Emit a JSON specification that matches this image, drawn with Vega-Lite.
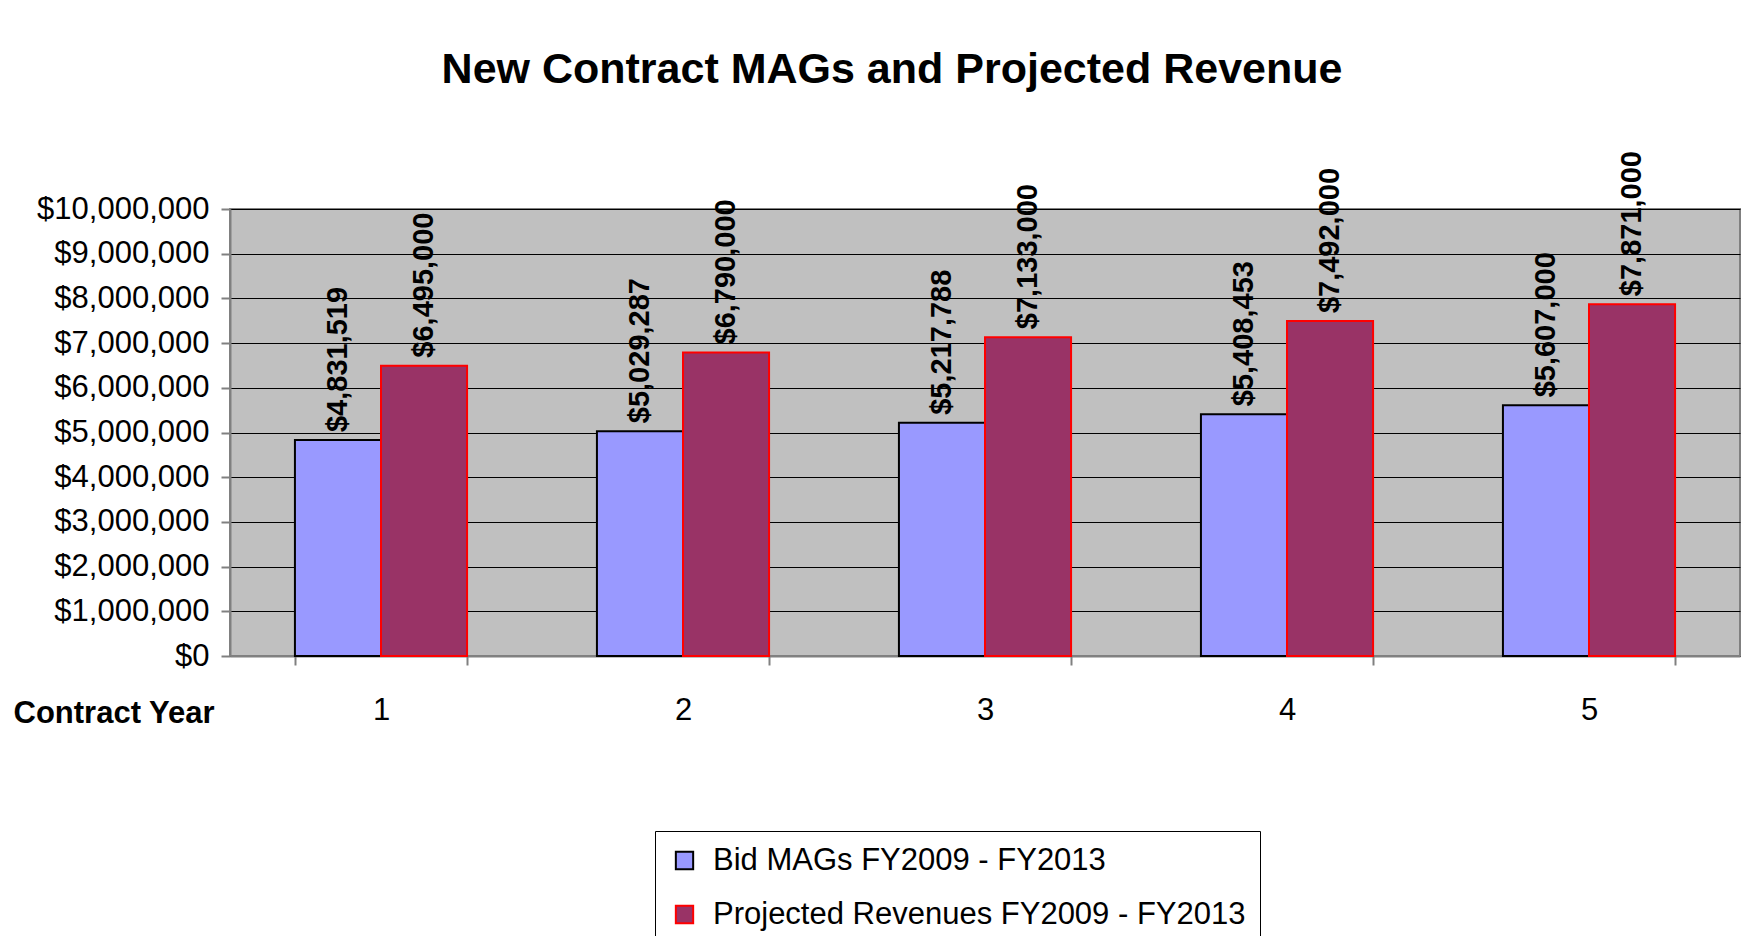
{
  "$schema": "https://vega.github.io/schema/vega-lite/v6.json",
  "width": 1510,
  "height": 447,
  "autosize": {"type": "none"},
  "padding": {"left": 230, "top": 209, "right": 21, "bottom": 280},
  "background": "white",
  "title": {
    "text": "New Contract MAGs and Projected Revenue",
    "font": "Liberation Sans",
    "fontSize": 43,
    "fontWeight": "bold",
    "color": "black",
    "anchor": "middle",
    "frame": "group",
    "dx": -93,
    "baseline": "alphabetic",
    "offset": 25
  },
  "data": {
    "values": [
      {"year": "1", "series": "Bid MAGs FY2009 - FY2013", "value": 4831519},
      {"year": "1", "series": "Projected Revenues FY2009 - FY2013", "value": 6495000},
      {"year": "2", "series": "Bid MAGs FY2009 - FY2013", "value": 5029287},
      {"year": "2", "series": "Projected Revenues FY2009 - FY2013", "value": 6790000},
      {"year": "3", "series": "Bid MAGs FY2009 - FY2013", "value": 5217788},
      {"year": "3", "series": "Projected Revenues FY2009 - FY2013", "value": 7133000},
      {"year": "4", "series": "Bid MAGs FY2009 - FY2013", "value": 5408453},
      {"year": "4", "series": "Projected Revenues FY2009 - FY2013", "value": 7492000},
      {"year": "5", "series": "Bid MAGs FY2009 - FY2013", "value": 5607000},
      {"year": "5", "series": "Projected Revenues FY2009 - FY2013", "value": 7871000}
    ]
  },
  "encoding": {
    "x": {
      "field": "year",
      "type": "ordinal",
      "scale": {"paddingInner": 0.43, "paddingOuter": 0.215},
      "axis": {
        "labelAngle": 0,
        "labelFontSize": 31,
        "labelPadding": 30,
        "tickBand": "extent",
        "tickSize": 9,
        "tickColor": "#808080",
        "tickWidth": 2,
        "domainColor": "#808080",
        "domainWidth": 2,
        "grid": false,
        "title": "Contract Year",
        "titleFontSize": 31,
        "titleFontWeight": "bold",
        "titleX": -217,
        "titleY": 57,
        "titleAlign": "left",
        "titleBaseline": "middle"
      }
    },
    "xOffset": {
      "field": "series",
      "type": "nominal",
      "sort": ["Bid MAGs FY2009 - FY2013", "Projected Revenues FY2009 - FY2013"],
      "scale": {"paddingInner": 0, "paddingOuter": 0}
    },
    "y": {
      "field": "value",
      "type": "quantitative",
      "scale": {"domain": [0, 10000000], "nice": false},
      "axis": {
        "values": [0, 1000000, 2000000, 3000000, 4000000, 5000000, 6000000, 7000000, 8000000, 9000000, 10000000],
        "format": "$,.0f",
        "labelFontSize": 31,
        "labelPadding": 12,
        "tickSize": 9,
        "tickColor": "#808080",
        "tickWidth": 2,
        "domainColor": "#808080",
        "domainWidth": 2,
        "grid": true,
        "gridColor": "black",
        "gridWidth": 1,
        "title": null
      }
    }
  },
  "layer": [
    {
      "mark": {"type": "bar", "strokeWidth": 2},
      "encoding": {
        "fill": {
          "field": "series",
          "type": "nominal",
          "sort": ["Bid MAGs FY2009 - FY2013", "Projected Revenues FY2009 - FY2013"],
          "scale": {"range": ["#9999FF", "#993366"]},
          "legend": {
            "orient": "none",
            "legendX": 425,
            "legendY": 622,
            "title": null,
            "strokeColor": "black",
            "fillColor": "white",
            "padding": 14,
            "labelFontSize": 31,
            "labelFont": "Liberation Sans",
            "labelColor": "black",
            "labelOffset": 13,
            "labelLimit": 800,
            "symbolType": "square",
            "symbolSize": 300,
            "symbolStrokeWidth": 2,
            "symbolOpacity": 1,
            "rowPadding": 22,
            "encode": {
              "symbols": {
                "update": {
                  "fill": {"scale": "fill", "field": "value"},
                  "stroke": {"scale": "stroke", "field": "value"},
                  "fillOpacity": {"value": 1}
                }
              }
            }
          }
        },
        "stroke": {
          "field": "series",
          "type": "nominal",
          "sort": ["Bid MAGs FY2009 - FY2013", "Projected Revenues FY2009 - FY2013"],
          "scale": {"range": ["#000000", "#FF0000"]},
          "legend": null
        }
      }
    },
    {
      "mark": {
        "type": "text",
        "angle": 270,
        "align": "left",
        "baseline": "middle",
        "dx": 8,
        "font": "Liberation Sans",
        "fontSize": 29,
        "fontWeight": "bold",
        "color": "black"
      },
      "encoding": {
        "text": {"field": "value", "type": "quantitative", "format": "$,.0f"}
      }
    }
  ],
  "config": {
    "view": {"fill": "#C0C0C0", "stroke": "#808080", "strokeWidth": 2},
    "font": "Liberation Sans",
    "axis": {"labelFont": "Liberation Sans", "labelColor": "black", "titleFont": "Liberation Sans", "titleColor": "black"}
  }
}
